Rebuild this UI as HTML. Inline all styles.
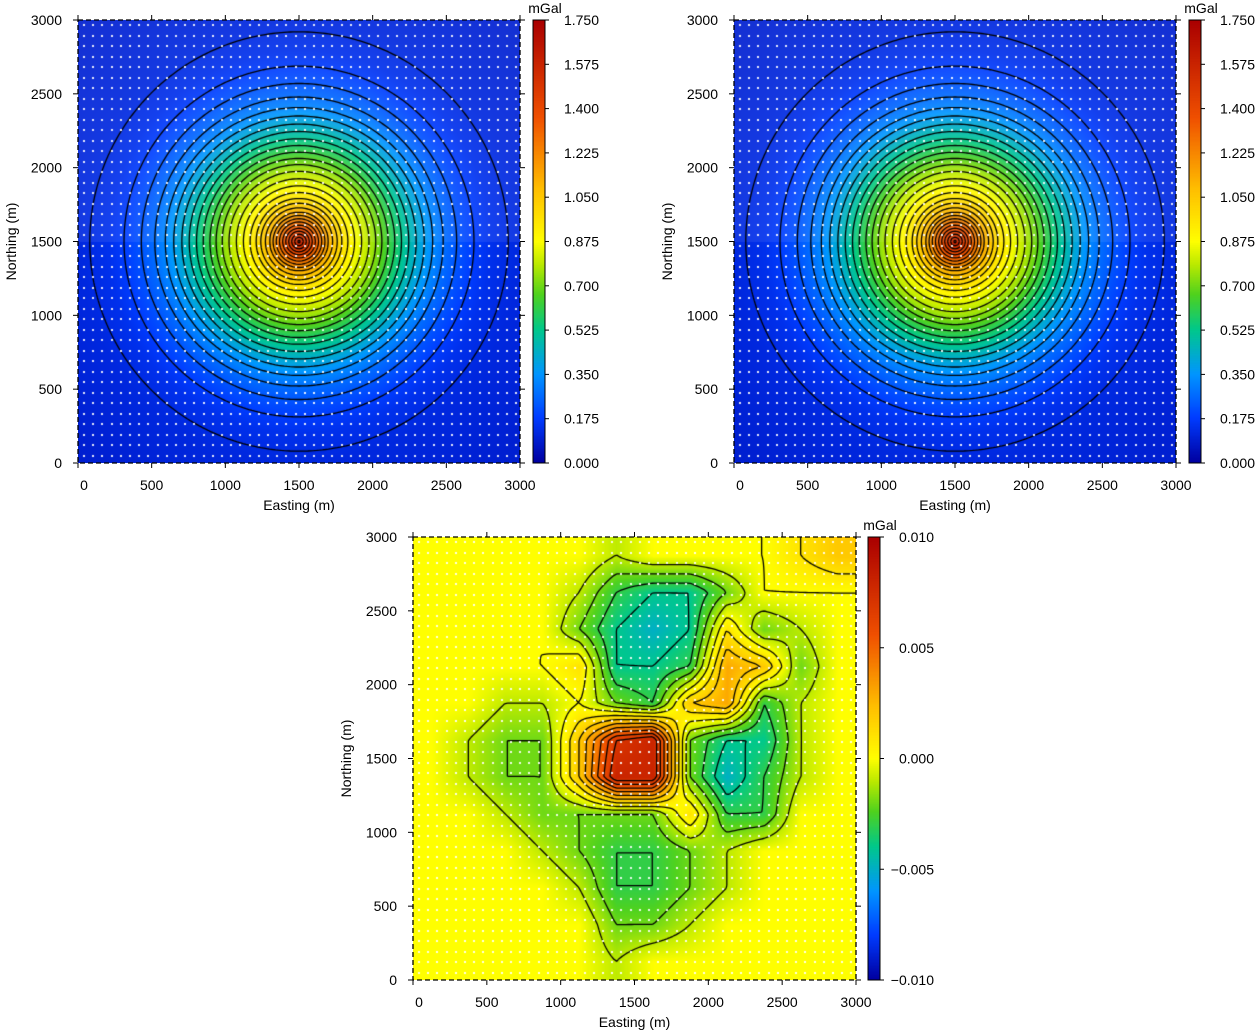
<!DOCTYPE html>
<html><head><meta charset="utf-8"><style>
body{margin:0;background:#fff;width:1256px;height:1034px;position:relative;overflow:hidden;font-family:"Liberation Sans",sans-serif}
canvas{position:absolute}
svg{position:absolute;left:0;top:0}
text{font-family:"Liberation Sans",sans-serif;font-size:14px;fill:#000}
</style></head><body>
<canvas id="c1" width="442" height="443" style="left:78px;top:20px"></canvas>
<canvas id="c2" width="442" height="443" style="left:734px;top:20px"></canvas>
<canvas id="c3" width="443" height="443" style="left:413px;top:537px"></canvas>
<canvas id="b1" width="12" height="443" style="left:533px;top:20px"></canvas>
<canvas id="b2" width="12" height="443" style="left:1189px;top:20px"></canvas>
<canvas id="b3" width="12" height="443" style="left:868px;top:537px"></canvas>
<svg id="s" width="1256" height="1034"></svg>
<script>
// radial gravity profile (distance m -> mGal)
const radialDist=[0,100,200,300,400,500,600,700,800,900,1000,1100,1200,1300,1500,2000,3000];
const gravity=[1.6,1.35,1.12,0.96,0.85,0.75,0.63,0.52,0.42,0.33,0.26,0.21,0.17,0.14,0.115,0.09,0.075];
const gravTicks=["1.750","1.575","1.400","1.225","1.050","0.875","0.700","0.525","0.350","0.175","0.000"];
const residTicks=["0.010","0.005","0.000","\u22120.005","\u22120.010"];
const axisTicks=["0","500","1000","1500","2000","2500","3000"];
// residual grid, rows from north (2875) to south (125), cols west->east, 250 m cells
const residual=[
[0,0,0,0,0,-0.001,0,0,0,0,0.001,0.002],
[0,0,0,0,-0.001,-0.003,-0.004,-0.004,-0.002,0,0,0],
[0,0,0,0,-0.002,-0.004,-0.005,-0.004,0.001,-0.002,-0.001,0],
[0,0,0,0,0.001,-0.004,-0.004,-0.003,0.003,0.002,-0.002,0],
[0,0,-0.001,-0.001,0,-0.002,-0.003,0.002,0.003,-0.003,-0.001,0],
[0,-0.001,-0.002,-0.002,0.002,0.007,0.008,-0.002,-0.004,-0.004,-0.001,0],
[0,-0.001,-0.002,-0.002,0.002,0.008,0.008,-0.002,-0.005,-0.003,-0.001,0],
[0,0,-0.001,-0.002,-0.002,-0.002,-0.002,0.001,-0.003,-0.003,0,0],
[0,0,0,-0.001,-0.002,-0.003,-0.003,-0.002,-0.001,0,0,0],
[0,0,0,0,-0.001,-0.003,-0.003,-0.002,-0.001,0,0,0],
[0,0,0,0,0,-0.002,-0.002,-0.001,0,0,0,0],
[0,0,0,0,0,-0.001,0,0,0,0,0,0]];

const stops=[[0,[0,0,160]],[0.1,[0,60,255]],[0.2,[0,150,255]],[0.3,[0,200,140]],[0.38,[80,210,30]],[0.45,[190,235,0]],[0.5,[255,255,0]],[0.62,[255,190,0]],[0.78,[240,80,0]],[1,[170,0,0]]];
function cmap(t){t=Math.max(0,Math.min(1,t));for(let i=1;i<stops.length;i++){if(t<=stops[i][0]){const a=stops[i-1],b=stops[i],f=(t-a[0])/(b[0]-a[0]);return a[1].map((v,k)=>v+(b[1][k]-v)*f);}}return stops[stops.length-1][1];}
function grav(e,n){const r=Math.hypot(e-1500,n-1500);for(let i=1;i<radialDist.length;i++){if(r<=radialDist[i]){const f=(r-radialDist[i-1])/(radialDist[i]-radialDist[i-1]);return gravity[i-1]+(gravity[i]-gravity[i-1])*f;}}return gravity[gravity.length-1];}
function resid(e,n){let cx=e/250-0.5,cy=(3000-n)/250-0.5;cx=Math.max(0,Math.min(11,cx));cy=Math.max(0,Math.min(11,cy));const i=Math.min(10,Math.floor(cx)),j=Math.min(10,Math.floor(cy));const fx=cx-i,fy=cy-j;const g=residual;return g[j][i]*(1-fx)*(1-fy)+g[j][i+1]*fx*(1-fy)+g[j+1][i]*(1-fx)*fy+g[j+1][i+1]*fx*fy;}

function drawMap(id,fn,vmin,vmax,levels,lighten){
 const c=document.getElementById(id),ctx=c.getContext('2d'),W=c.width,H=c.height;
 const img=ctx.createImageData(W,H);
 for(let y=0;y<H;y++)for(let x=0;x<W;x++){const e=x/W*3000,n=3000-y/H*3000;const v=fn(e,n);let col=cmap((v-vmin)/(vmax-vmin));if(lighten&&n>1500)col=col.map(q=>q+(255-q)*0.08);const k=(y*W+x)*4;img.data[k]=col[0];img.data[k+1]=col[1];img.data[k+2]=col[2];img.data[k+3]=255;}
 ctx.putImageData(img,0,0);
 const N=150,gx=W/N,gy=H/N,val=[];
 for(let j=0;j<=N;j++){val.push([]);for(let i=0;i<=N;i++)val[j].push(fn(i/N*3000,3000-j/N*3000));}
 ctx.strokeStyle='#000';ctx.lineWidth=1.3;ctx.beginPath();
 for(const L of levels){for(let j=0;j<N;j++)for(let i=0;i<N;i++){
  const a=val[j][i],b=val[j][i+1],cc=val[j+1][i+1],d=val[j+1][i];const pts=[];
  const ed=(v1,v2,x1,y1,x2,y2)=>{if((v1<L)!==(v2<L)){const f=(L-v1)/(v2-v1);pts.push([x1+(x2-x1)*f,y1+(y2-y1)*f]);}};
  ed(a,b,i,j,i+1,j);ed(b,cc,i+1,j,i+1,j+1);ed(cc,d,i+1,j+1,i,j+1);ed(d,a,i,j+1,i,j);
  for(let p=0;p+1<pts.length;p+=2){ctx.moveTo(pts[p][0]*gx,pts[p][1]*gy);ctx.lineTo(pts[p+1][0]*gx,pts[p+1][1]*gy);}
 }}
 ctx.stroke();
 ctx.fillStyle='rgba(255,255,255,0.9)';
 for(let y=4;y<H;y+=10.5)for(let x=5;x<W;x+=9.2)ctx.fillRect(Math.round(x),Math.round(y),2,2);
}
function drawBar(id){const c=document.getElementById(id),ctx=c.getContext('2d');for(let y=0;y<c.height;y++){const col=cmap(1-y/(c.height-1));ctx.fillStyle=`rgb(${col[0]|0},${col[1]|0},${col[2]|0})`;ctx.fillRect(0,y,c.width,1);}}
const gl=[];for(let v=0.125;v<1.7;v+=0.05)gl.push(v);
const rl=[];for(let v=-0.006;v<=0.008;v+=0.001)rl.push(v+1e-6);
drawMap('c1',grav,0,1.75,gl,true);drawMap('c2',grav,0,1.75,gl,true);drawMap('c3',resid,-0.01,0.01,rl,false);
drawBar('b1');drawBar('b2');drawBar('b3');

const s=document.getElementById('s');const NS='http://www.w3.org/2000/svg';
function mk(tag,at,txt){const e=document.createElementNS(NS,tag);for(const k in at)e.setAttribute(k,at[k]);if(txt!==undefined)e.textContent=txt;s.appendChild(e);return e;}
function frame(px,py,w,h,bx,ticks){
 let e=mk('rect',{x:px,y:py,width:w,height:h,fill:'none',stroke:'#000','stroke-width':1.3,'stroke-dasharray':'5,3'});
 
 
 axisTicks.forEach((t,i)=>{const x=px+i/6*w,y=py+h-i/6*h;
  mk('line',{x1:x,y1:py+h,x2:x,y2:py+h+5,stroke:'#000'});mk('line',{x1:x,y1:py,x2:x,y2:py-5,stroke:'#000'});
  mk('line',{x1:px-5,y1:y,x2:px,y2:y,stroke:'#000'});mk('line',{x1:px+w,y1:y,x2:px+w+5,y2:y,stroke:'#000'});
  let tx=mk('text',{x:x+(i==0?6:0),y:py+h+27,'text-anchor':'middle'},t);
  
  
  let ty=mk('text',{x:px-16,y:y+5,'text-anchor':'end'},t);
  
  
 });
 let xt=mk('text',{x:px+w/2,y:py+h+47,'text-anchor':'middle'},'Easting (m)');
 
 
 let yt=mk('text',{x:0,y:0,'text-anchor':'middle',transform:`translate(${px-62},${py+h/2}) rotate(-90)`},'Northing (m)');
 
 
 mk('rect',{x:bx,y:py,width:12,height:h,fill:'none',stroke:'#000','stroke-width':1});
 ticks.forEach((t,i)=>{const y=py+i/(ticks.length-1)*h;mk('line',{x1:bx+12,y1:y,x2:bx+16,y2:y,stroke:'#000'});
  let lb=mk('text',{x:bx+66,y:y+5,'text-anchor':'end'},t);
  
  });
 let u=mk('text',{x:bx+12,y:py-7,'text-anchor':'middle'},'mGal');
 
 
}
frame(78,20,442,443,533,gravTicks);frame(734,20,442,443,1189,gravTicks);frame(413,537,443,443,868,residTicks);
</script></body></html>
